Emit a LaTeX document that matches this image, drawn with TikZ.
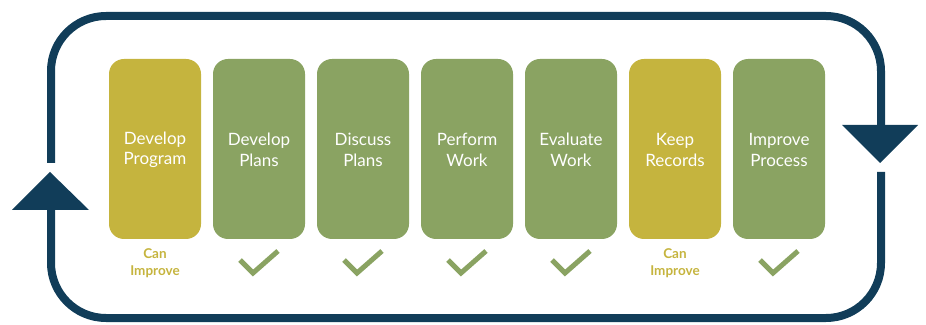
\documentclass[tikz,border=0pt]{standalone}
\usepackage{fontspec}
\setmainfont{Lato}
\definecolor{navy}{RGB}{17,61,89}
\definecolor{gold}{RGB}{197,180,62}
\definecolor{sage}{RGB}{138,163,98}
\begin{document}
\begin{tikzpicture}[x=1pt,y=1pt,
  stepbox/.style={rounded corners=15pt, minimum width=92pt, minimum height=180pt, inner sep=0pt},
  goldbox/.style={stepbox, fill=gold},
  greenbox/.style={stepbox, fill=sage},
  label/.style={text=white, align=center, font=\fontsize{17}{20.5}\selectfont},
  note/.style={text=gold, align=center, font=\fontsize{13.5}{17}\selectfont\bfseries},
  loopline/.style={draw=navy, line width=8pt, rounded corners=55pt},
  tick/.style={draw=sage, line width=5pt},
  arrowhead/.style={fill=navy}]
\useasboundingbox (0,0) rectangle (926,324);
% loop
\coordinate (l1) at (51,114);
\coordinate (l2) at (51,161);
\coordinate (r1) at (881,152);
\coordinate (r2) at (881,199);
\draw[loopline] (l1) -- (51,6) -- (881,6) -- (r1);
\draw[loopline] (r2) -- (881,308) -- (51,308) -- (l2);
\coordinate (la) at (50,152);
\coordinate (ra) at (880,161);
\fill[arrowhead] (la) -- (12,114) -- (89,114) -- cycle;
\fill[arrowhead] (ra) -- (842,199) -- (918,199) -- cycle;
% boxes
\foreach \n/\x/\s/\t in {b1/155/goldbox/{Develop\\Program}, b2/259/greenbox/{Develop\\Plans},
  b3/363/greenbox/{Discuss\\Plans}, b4/467/greenbox/{Perform\\Work}, b5/571/greenbox/{Evaluate\\Work},
  b6/675/goldbox/{Keep\\Records}, b7/779/greenbox/{Improve\\Process}}{
  \node[\s] (\n) at (\x,175) {};
  \node[label] (\n t) at (\x,174) {\t};
}
% notes
\node[note] (n1) at (155,61) {Can\\Improve};
\node[note] (n6) at (675,61) {Can\\Improve};
\foreach \c in {259,363,467,571,779}{
  \draw[tick] (\c-19,64) -- (\c-6,51) -- (\c+19,73);
}
\end{tikzpicture}
\end{document}
